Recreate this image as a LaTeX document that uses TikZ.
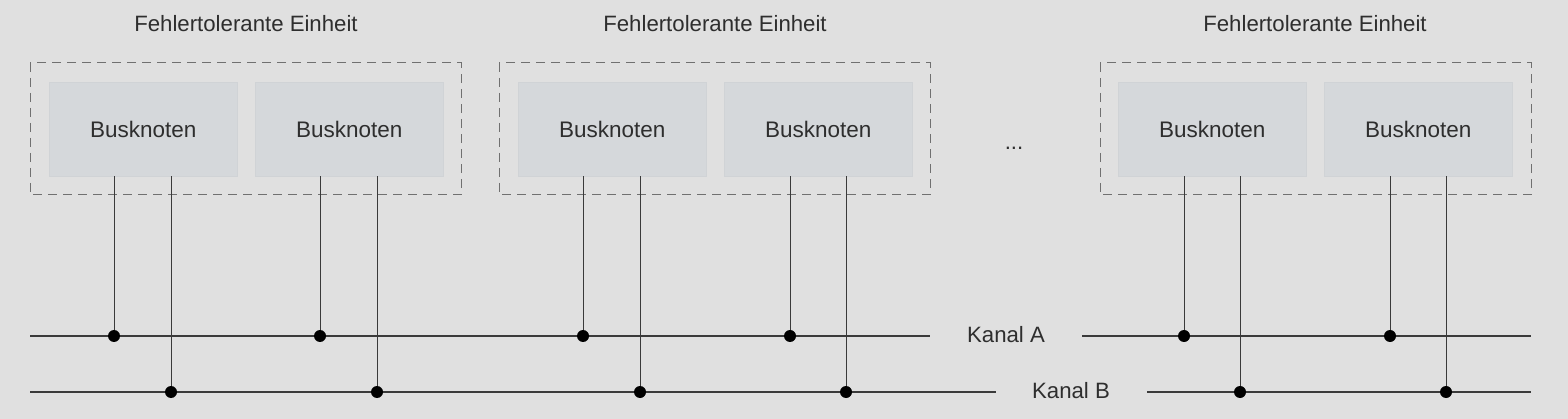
\documentclass[tikz,border=0pt]{standalone}
\usepackage{fontspec}
\setmainfont{Liberation Sans}
\definecolor{bg}{HTML}{E0E0E0}
\definecolor{boxfill}{HTML}{D5D8DB}
\definecolor{boxline}{HTML}{D0D3D6}
\definecolor{txt}{HTML}{2E2E2E}
\definecolor{dash}{HTML}{707070}
\definecolor{wire}{HTML}{3A3A3A}
\begin{document}
\begin{tikzpicture}[x=1pt,y=-1pt,
  busbox/.style={draw=boxline,fill=boxfill,minimum width=188pt,minimum height=94pt,inner sep=0pt,anchor=north west,font=\fontsize{22.5}{26}\selectfont,text=txt},
  unit/.style={draw=dash,line width=1pt,dash pattern=on 9pt off 6pt},
  title/.style={font=\fontsize{22.2}{26}\selectfont,text=txt},
  lbl/.style={font=\fontsize{22.2}{26}\selectfont,text=txt},
  tap/.style={draw=wire,line width=1pt},
  bus/.style={draw=wire,line width=1.2pt},
  dot/.style={circle,fill=black,inner sep=0pt,minimum size=12pt}]
\fill[bg] (0,0) rectangle (1568,419);
\useasboundingbox (0,0) rectangle (1568,419);
% titles
\node[title] (t1) at (246,24) {Fehlertolerante Einheit};
\node[title] (t2) at (715,24) {Fehlertolerante Einheit};
\node[title] (t3) at (1315,24) {Fehlertolerante Einheit};
% dashed units
\draw[unit] (30,63) rectangle (461,195);
\draw[unit] (499,63) rectangle (930,195);
\draw[unit] (1100,63) rectangle (1531,195);
% bus nodes
\node[busbox] (b1) at (49,82) {Busknoten};
\node[busbox] (b2) at (255,82) {Busknoten};
\node[busbox] (b3) at (518,82) {Busknoten};
\node[busbox] (b4) at (724,82) {Busknoten};
\node[busbox] (b5) at (1118,82) {Busknoten};
\node[busbox] (b6) at (1324,82) {Busknoten};
\node[lbl] (dots) at (1014,148) {...};
% labels
\node[lbl] (ka) at (1006,335) {Kanal A};
\node[lbl] (kb) at (1071,391) {Kanal B};
% bus ends
\coordinate (aL) at (30,336);
\coordinate (aR) at (1531,336);
\coordinate (bL) at (30,392);
\coordinate (bR) at (1531,392);
\draw[bus] (aL) -- (930,336);
\draw[bus] (1082,336) -- (aR);
\draw[bus] (bL) -- (996,392);
\draw[bus] (1147,392) -- (bR);
% taps
\foreach \n/\xa/\xb in {b1/114/171,b2/320/377,b3/583/640,b4/790/846,b5/1184/1240,b6/1390/1446}{
  \coordinate (\n A) at (\xa,336);
  \coordinate (\n B) at (\xb,392);
  \draw[tap] (\n.south -| \n A) -- (\n A);
  \draw[tap] (\n.south -| \n B) -- (\n B);
  \node[dot] at (\n A) {};
  \node[dot] at (\n B) {};
}
\end{tikzpicture}
\end{document}
